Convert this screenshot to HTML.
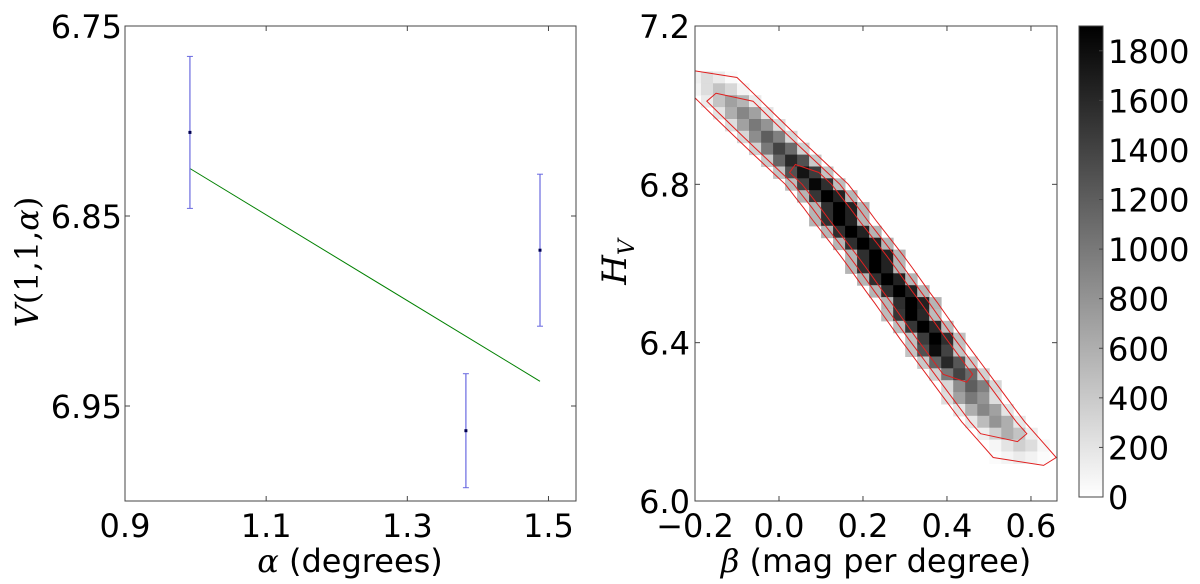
<!DOCTYPE html>
<html><head><meta charset="utf-8"><style>
body{margin:0;background:#fff;}
svg text{font-family:"DejaVu Sans","Liberation Sans",sans-serif;}
</style></head><body>
<svg id="fig" width="1200" height="579" viewBox="0 0 1200 579" xmlns="http://www.w3.org/2000/svg">
<defs>
<linearGradient id="cbg" x1="0" y1="1" x2="0" y2="0">
<stop offset="0" stop-color="#fff"/><stop offset="1" stop-color="#000"/>
</linearGradient>
<clipPath id="rclip"><rect x="695" y="26" width="362" height="475"/></clipPath>
</defs>
<g id="left"></g>
<g id="right"></g>
<g id="cbar"></g>
</svg>
<script>
// ---- left chart data ----
const alphaVals = [0.992, 1.383, 1.488];
const magVals = [6.806, 6.963, 6.868];
const magErr = [0.04, 0.03, 0.04];
const fitAlpha = [0.992, 1.488];
const fitMag = [6.825, 6.937];
const leftXTicks = [0.9, 1.1, 1.3, 1.5];
const leftXTickLabels = ["0.9", "1.1", "1.3", "1.5"];
const leftYTicks = [6.75, 6.85, 6.95];
const leftYTickLabels = ["6.75", "6.85", "6.95"];

// ---- right chart data (heatmap rows along the band) ----
const rowH = [7.07,7.04,7.01,6.98,6.95,6.92,6.89,6.86,6.83,6.80,6.77,6.74,6.71,6.68,6.65,6.62,6.59,6.56,6.53,6.50,6.47,6.44,6.41,6.38,6.35,6.32,6.29,6.26,6.23,6.20,6.17,6.14,6.11];
const rowBeta = [-0.175,-0.146,-0.117,-0.088,-0.059,-0.030,0.000,0.030,0.060,0.090,0.112,0.134,0.155,0.177,0.199,0.221,0.242,0.262,0.282,0.303,0.323,0.343,0.363,0.384,0.405,0.426,0.447,0.468,0.489,0.510,0.535,0.560,0.585];
const countCenter = [250,450,700,900,1000,1200,1400,1600,1750,1850,1900,1900,1900,1900,1900,1900,1900,1900,1900,1900,1900,1900,1900,1800,1600,1400,1200,1000,900,800,600,350,150];
const countLeft = [120,250,450,600,700,850,1000,1150,1300,1400,1500,1550,1550,1550,1550,1550,1550,1550,1550,1550,1500,1500,1450,1300,1150,1000,850,700,600,500,350,200,80];
const countRight = [150,300,550,700,800,950,1100,1300,1450,1550,1650,1650,1650,1650,1650,1650,1650,1650,1650,1650,1600,1600,1550,1400,1250,1100,950,800,700,600,450,250,100];
const countEdge = [40,80,150,200,250,300,350,400,450,500,550,550,550,550,550,550,550,550,550,550,500,500,480,450,400,350,300,250,200,180,130,70,30];
const contourHalfWidth = [0.075, 0.055, 0.035];
const contourRowRange = [[0,32],[2,30],[8,25]];
const rightXTicks = [-0.2, 0.0, 0.2, 0.4, 0.6];
const rightXTickLabels = ["\u22120.2", "0.0", "0.2", "0.4", "0.6"];
const rightYTicks = [6.0, 6.4, 6.8, 7.2];
const rightYTickLabels = ["6.0", "6.4", "6.8", "7.2"];
const cbarTicks = [0,200,400,600,800,1000,1200,1400,1600,1800];
const cbarMax = 1900;

const NS = "http://www.w3.org/2000/svg";
function mk(parent, tag, attrs, text){
  const e = document.createElementNS(NS, tag);
  for (const k in attrs) e.setAttribute(k, attrs[k]);
  if (text !== undefined) e.textContent = text;
  parent.appendChild(e);
  return e;
}

// ---------- LEFT ----------
const L = {x0:125, x1:576, y0:26, y1:501, xmin:0.9, xmax:1.539, ymin:6.75, ymax:7.0};
const lx = v => L.x0 + (v - L.xmin) / (L.xmax - L.xmin) * (L.x1 - L.x0);
const ly = v => L.y0 + (v - L.ymin) / (L.ymax - L.ymin) * (L.y1 - L.y0);
const gl = document.getElementById('left');

const fit = mk(gl, 'line', {x1:lx(fitAlpha[0]), y1:ly(fitMag[0]), x2:lx(fitAlpha[1]), y2:ly(fitMag[1]), stroke:'#008000', 'stroke-width':1});


alphaVals.forEach((a, i) => {
  const g = mk(gl, 'g', {});
  
  
  const x = lx(a);
  mk(g, 'line', {x1:x, x2:x, y1:ly(magVals[i]-magErr[i]), y2:ly(magVals[i]+magErr[i]), stroke:'#6a6ae0', 'stroke-width':1.2});
  mk(g, 'line', {x1:x-3, x2:x+3, y1:ly(magVals[i]-magErr[i]), y2:ly(magVals[i]-magErr[i]), stroke:'#6a6ae0', 'stroke-width':1});
  mk(g, 'line', {x1:x-3, x2:x+3, y1:ly(magVals[i]+magErr[i]), y2:ly(magVals[i]+magErr[i]), stroke:'#6a6ae0', 'stroke-width':1});
  mk(g, 'rect', {x:x-1.5, y:ly(magVals[i])-1.5, width:3, height:3, fill:'#000050'});
});
const lframe = mk(gl, 'rect', {x:L.x0, y:L.y0, width:L.x1-L.x0, height:L.y1-L.y0, fill:'none', stroke:'#444', 'stroke-width':1});


leftXTicks.forEach((t, i) => {
  const x = lx(t);
  mk(gl, 'line', {x1:x, x2:x, y1:L.y1, y2:L.y1-5, stroke:'#444'});
  mk(gl, 'line', {x1:x, x2:x, y1:L.y0, y2:L.y0+5, stroke:'#444'});
  const tx = mk(gl, 'text', {x:x, y:L.y1+36, 'font-size':32, 'text-anchor':'middle'}, leftXTickLabels[i]);
  
  
});
leftYTicks.forEach((t, i) => {
  const y = ly(t);
  mk(gl, 'line', {x1:L.x0, x2:L.x0+5, y1:y, y2:y, stroke:'#444'});
  mk(gl, 'line', {x1:L.x1, x2:L.x1-5, y1:y, y2:y, stroke:'#444'});
  const tx = mk(gl, 'text', {x:L.x0-3, y:y+12, 'font-size':32, 'text-anchor':'end'}, leftYTickLabels[i]);
  
  
});
</script>
<script>
// ---------- RIGHT ----------
const R = {x0:695, x1:1057, y0:26, y1:501, xmin:-0.2, xmax:0.662, ymin:6.0, ymax:7.2};
const rx = v => R.x0 + (v - R.xmin) / (R.xmax - R.xmin) * (R.x1 - R.x0);
const ry = v => R.y1 - (v - R.ymin) / (R.ymax - R.ymin) * (R.y1 - R.y0);
const gr = document.getElementById('right');
const dB = 0.0286, dHc = 0.0303;
const shade = c => { const v = Math.round(255 * (1 - Math.min(c, cbarMax) / cbarMax)); return `rgb(${v},${v},${v})`; };
const heat = mk(gr, 'g', {'clip-path':'url(#rclip)'});


rowH.forEach((h, i) => {
  const vals = [countEdge[i], countLeft[i], countCenter[i], countRight[i], countEdge[i]];
  const cIdx = Math.round((rowBeta[i] - R.xmin) / dB);
  vals.forEach((c, k) => {
    const b0 = R.xmin + (cIdx + k - 2) * dB - dB/2;
    const xa = rx(b0), xb = rx(b0 + dB);
    const ya = ry(h + dHc/2), yb = ry(h - dHc/2);
    const cell = mk(heat, 'rect', {x:xa.toFixed(1), y:ya.toFixed(1), width:(xb-xa+0.4).toFixed(1), height:(yb-ya+0.4).toFixed(1), fill:shade(c)});
    
    
  });
});
const cg = mk(gr, 'g', {'clip-path':'url(#rclip)'});


contourHalfWidth.forEach((w, j) => {
  const [a, b] = contourRowRange[j];
  const pts = [];
  pts.push([rowBeta[a] - w*0.6, rowH[a] + 0.02]);
  for (let i = a; i <= b; i++) pts.push([rowBeta[i] + w, rowH[i]]);
  pts.push([rowBeta[b] + w*0.6, rowH[b] - 0.02]);
  for (let i = b; i >= a; i--) pts.push([rowBeta[i] - w, rowH[i]]);
  const p = mk(cg, 'polygon', {points: pts.map(q => rx(q[0]).toFixed(1) + ',' + ry(q[1]).toFixed(1)).join(' '), fill:'none', stroke:'#e02020', 'stroke-width':1});
  
  
});
const rframe = mk(gr, 'rect', {x:R.x0, y:R.y0, width:R.x1-R.x0, height:R.y1-R.y0, fill:'none', stroke:'#444', 'stroke-width':1});


rightXTicks.forEach((t, i) => {
  const x = rx(t);
  mk(gr, 'line', {x1:x, x2:x, y1:R.y1, y2:R.y1-5, stroke:'#444'});
  mk(gr, 'line', {x1:x, x2:x, y1:R.y0, y2:R.y0+5, stroke:'#444'});
  const tx = mk(gr, 'text', {x:x, y:R.y1+36, 'font-size':32, 'text-anchor':'middle'}, rightXTickLabels[i]);
  
  
});
rightYTicks.forEach((t, i) => {
  const y = ry(t);
  mk(gr, 'line', {x1:R.x0, x2:R.x0+5, y1:y, y2:y, stroke:'#444'});
  mk(gr, 'line', {x1:R.x1, x2:R.x1-5, y1:y, y2:y, stroke:'#444'});
  const tx = mk(gr, 'text', {x:R.x0-5, y:y+12, 'font-size':32, 'text-anchor':'end'}, rightYTickLabels[i]);
  
  
});

// ---------- COLORBAR ----------
const gc = document.getElementById('cbar');
const C = {x0:1079, x1:1103, y0:26, y1:497};
const cy = v => C.y1 - v / cbarMax * (C.y1 - C.y0);
const bar = mk(gc, 'rect', {x:C.x0, y:C.y0, width:C.x1-C.x0, height:C.y1-C.y0, fill:'url(#cbg)', stroke:'#444', 'stroke-width':1});


cbarTicks.forEach(t => {
  const y = cy(t);
  mk(gc, 'line', {x1:C.x1, x2:C.x1-4, y1:y, y2:y, stroke:'#444'});
  const tx = mk(gc, 'text', {x:C.x1+5, y:y+12, 'font-size':32}, String(t));
  
  
});
</script>
<script>
const svg = document.getElementById('fig');
function lab(attrs, html, name){
  const t = document.createElementNS("http://www.w3.org/2000/svg", 'text');
  for (const k in attrs) t.setAttribute(k, attrs[k]);
  t.innerHTML = html;
  
  
  svg.appendChild(t);
}
const SER = 'font-family:\'DejaVu Serif\',serif;font-style:italic';
lab({x:350, y:572, 'font-size':32, 'text-anchor':'middle'}, '<tspan style="' + SER + '">α</tspan> (degrees)', 'left-x-axis-title');
lab({x:876, y:572, 'font-size':32, 'text-anchor':'middle'}, '<tspan style="' + SER + '">β</tspan> (mag per degree)', 'right-x-axis-title');
lab({x:0, y:0, 'font-size':32, 'text-anchor':'middle', transform:'translate(38,262) rotate(-90)', style:"font-family:'DejaVu Serif',serif"}, '<tspan style="' + SER + '">V</tspan>(1,1,<tspan style="' + SER + '">α</tspan>)', 'left-y-axis-title');
lab({x:0, y:0, 'font-size':34, 'text-anchor':'middle', transform:'translate(626,262) rotate(-90)', style:"font-family:'DejaVu Serif',serif"}, '<tspan style="' + SER + '">H</tspan><tspan style="' + SER + '" font-size="22" dy="8">V</tspan>', 'right-y-axis-title');
</script>
</body></html>
